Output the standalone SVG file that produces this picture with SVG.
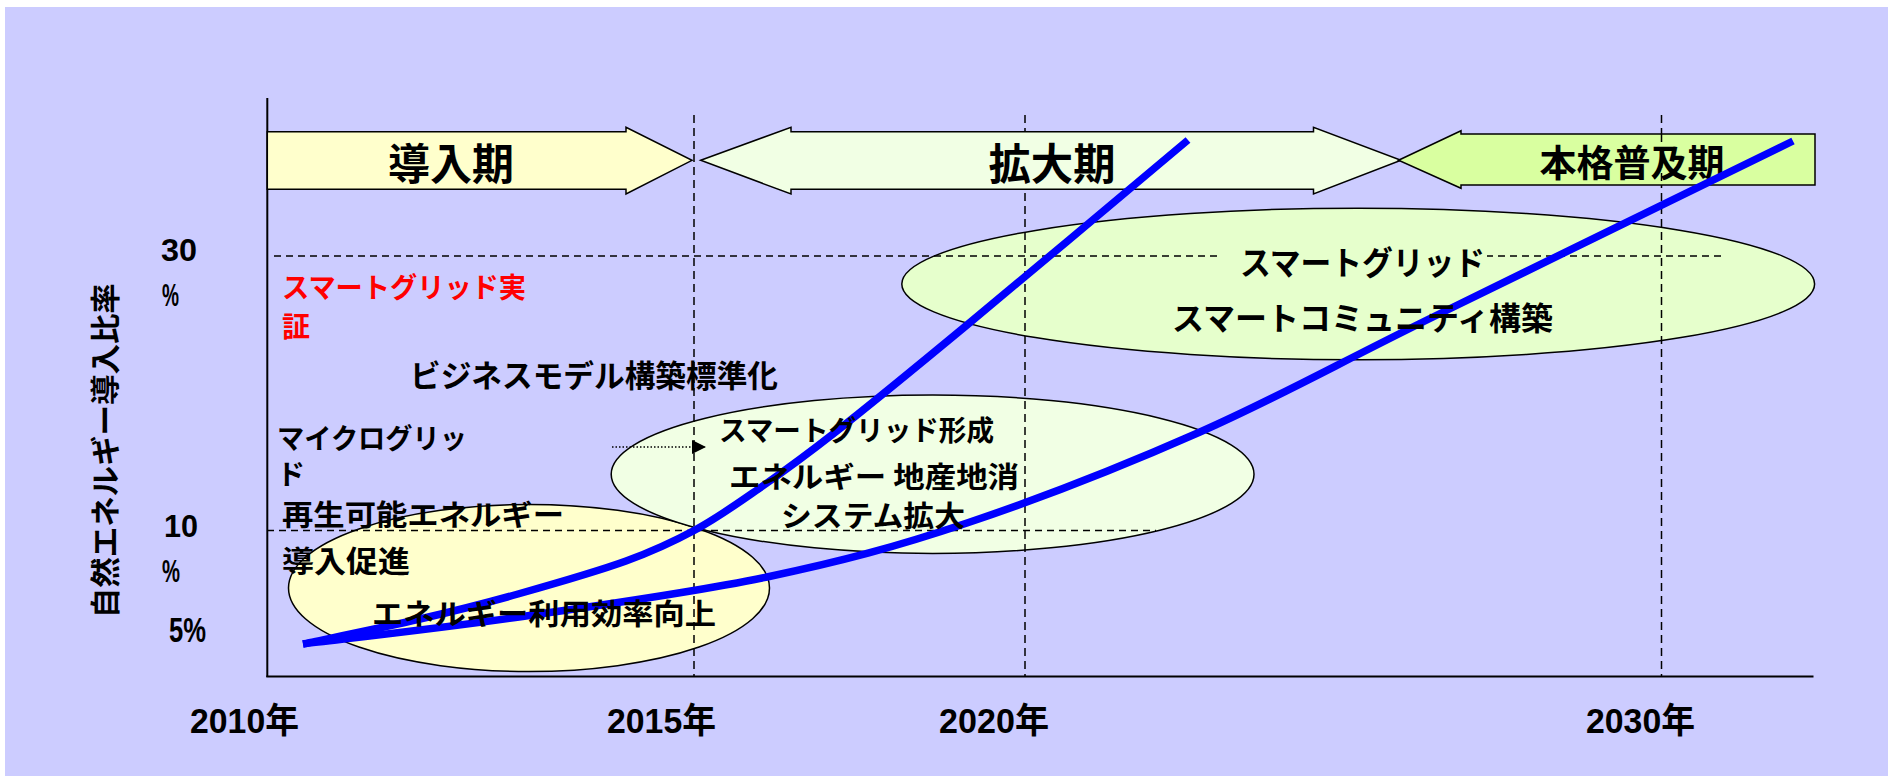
<svg xmlns="http://www.w3.org/2000/svg" width="1888" height="776" viewBox="0 0 1888 776">
<style>
.jp{font-family:"Noto Sans CJK JP","Noto Sans CJK SC",sans-serif;font-weight:bold;fill:#000}
.num{font-family:"Liberation Sans","Noto Sans CJK JP",sans-serif;font-weight:bold;fill:#000}
.dash{stroke:#000;stroke-width:1.5;stroke-dasharray:8 5;fill:none}
.hdash{stroke:#000;stroke-width:1.5;stroke-dasharray:7 5;fill:none}
.curve{fill:none;stroke:#0000FF;stroke-width:7.5;stroke-linejoin:round}
.shape{stroke:#000;stroke-width:1.5}
.axis{stroke:#000;stroke-width:2;fill:none}
</style>
<defs>
<marker id="tri" viewBox="0 0 10 10" refX="10" refY="5" markerWidth="14" markerHeight="14" markerUnits="userSpaceOnUse" orient="auto">
<path d="M0,0 L10,5 L0,10 Z" fill="#000"/>
</marker>
</defs>
<rect x="0" y="0" width="1888" height="776" fill="#FFFFFF"/>
<rect x="5" y="7" width="1883" height="769" fill="#CCCCFF"/>

<g id="ellipse-intro">
<ellipse class="shape" cx="529" cy="588" rx="240.5" ry="83.5" fill="#FFFFCC"/>
</g>
<g id="ellipse-expand">
<ellipse class="shape" cx="932.6" cy="474.2" rx="321.4" ry="79.2" fill="#F1FFE4"/>
</g>
<g id="ellipse-spread">
<ellipse class="shape" cx="1358.2" cy="284" rx="456.4" ry="75.8" fill="#E6FFCC"/>
</g>

<g id="gridlines">
<line class="dash" x1="694" y1="115" x2="694" y2="676"/>
<line class="dash" x1="1025" y1="115" x2="1025" y2="676"/>
<line class="dash" x1="1661.5" y1="115" x2="1661.5" y2="676"/>
<line class="hdash" x1="274" y1="256" x2="1724" y2="256"/>
<line class="hdash" x1="267" y1="530.5" x2="1156" y2="530.5"/>
<rect x="1218" y="240" width="269" height="40" fill="#E6FFCC"/>
</g>

<g id="axes">
<line class="axis" x1="267.3" y1="98" x2="267.3" y2="677"/>
<line class="axis" x1="266.3" y1="676.5" x2="1813.5" y2="676.5"/>
</g>

<g id="phase-intro">
<polygon class="shape" fill="#FFFFCC" points="267.3,131.7 626,131.7 626,127.3 692,160.3 626,194 626,189.3 267.3,189.3"/>
<text class="jp" x="451" y="180" font-size="43" text-anchor="middle" textLength="126" lengthAdjust="spacingAndGlyphs">導入期</text>
</g>
<g id="phase-expand">
<polygon class="shape" fill="#F1FFE4" points="700.7,160.3 791,127.3 791,131.7 1313.5,131.7 1313.5,127.3 1401,160.3 1313.5,194 1313.5,189.3 791,189.3 791,194"/>
<text class="jp" x="1052" y="180" font-size="43" text-anchor="middle" textLength="127" lengthAdjust="spacingAndGlyphs">拡大期</text>
</g>
<g id="phase-spread">
<polygon class="shape" fill="#D9FFA0" points="1398.5,160.3 1461,130.7 1461,134 1815,134 1815,185 1461,185 1461,188.3"/>
<text class="jp" x="1632" y="177" font-size="37" text-anchor="middle" textLength="185" lengthAdjust="spacingAndGlyphs">本格普及期</text>
</g>
<line class="dash" x1="1661.5" y1="134" x2="1661.5" y2="185"/>

<g id="curves">
<path class="curve" d="M303,644 C322.5,639.8 384.2,627.3 420,619 C455.8,610.7 483.7,603.7 518,594 C552.3,584.3 596.5,571.7 626,561 C655.5,550.3 673.2,541.8 695,530 C716.8,518.2 734,506 757,490 C780,474 798,461.5 833,434 C868,406.5 907.8,374 967,325 C1026.2,276 1151.2,170.8 1188,140"/>
<path class="curve" d="M303,644 C339,639.5 441.7,628.2 519,617 C596.3,605.8 692.3,592.7 767,577 C841.7,561.3 894.8,547.2 967,523 C1039.2,498.8 1122.3,466.3 1200,432 C1277.7,397.7 1334.2,365.5 1433,317 C1531.8,268.5 1733,170.3 1793,141"/>
</g>

<g id="connectors">
<line x1="612" y1="447" x2="706" y2="447" stroke="#000" stroke-width="1.5" stroke-dasharray="1.5 2" marker-end="url(#tri)"/>
</g>

<g id="y-axis-label">
<text class="jp" font-size="30" text-anchor="middle" transform="translate(116,450.7) rotate(-90)" textLength="335" lengthAdjust="spacingAndGlyphs">自然エネルギー導入比率</text>
</g>
<g id="y-ticks">
<text class="num" x="161" y="260.5" font-size="31" textLength="36" lengthAdjust="spacingAndGlyphs">30</text>
<text class="num" x="162" y="306" font-size="31" textLength="17" lengthAdjust="spacingAndGlyphs">%</text>
<text class="num" x="164" y="536.5" font-size="32" textLength="34" lengthAdjust="spacingAndGlyphs">10</text>
<text class="num" x="162" y="581.5" font-size="31" textLength="18" lengthAdjust="spacingAndGlyphs">%</text>
<text class="num" x="169" y="641.5" font-size="35" textLength="37" lengthAdjust="spacingAndGlyphs">5%</text>
</g>
<g id="x-ticks">
<text class="num" x="190" y="733.3" font-size="35" textLength="109" lengthAdjust="spacingAndGlyphs">2010年</text>
<text class="num" x="607" y="733.3" font-size="35" textLength="109" lengthAdjust="spacingAndGlyphs">2015年</text>
<text class="num" x="939" y="733.3" font-size="35" textLength="110" lengthAdjust="spacingAndGlyphs">2020年</text>
<text class="num" x="1586" y="733.3" font-size="35" textLength="109" lengthAdjust="spacingAndGlyphs">2030年</text>
</g>

<g id="label-smartgrid-demo">
<text class="jp" x="282" y="298" font-size="28" style="fill:#FF0000" textLength="244" lengthAdjust="spacingAndGlyphs">スマートグリッド実</text>
<text class="jp" x="282" y="336.5" font-size="28" style="fill:#FF0000">証</text>
</g>
<g id="label-business">
<text class="jp" x="410" y="386.5" font-size="31" textLength="368" lengthAdjust="spacingAndGlyphs">ビジネスモデル構築標準化</text>
</g>
<g id="label-microgrid">
<text class="jp" x="277" y="448.5" font-size="28" textLength="190" lengthAdjust="spacingAndGlyphs">マイクログリッ</text>
<text class="jp" x="277" y="485" font-size="28">ド</text>
</g>
<g id="label-intro">
<text class="jp" x="282" y="525.5" font-size="29" textLength="282" lengthAdjust="spacingAndGlyphs">再生可能エネルギー</text>
<text class="jp" x="282" y="572" font-size="30" textLength="128" lengthAdjust="spacingAndGlyphs">導入促進</text>
<text class="jp" x="372" y="625" font-size="29" textLength="344" lengthAdjust="spacingAndGlyphs">エネルギー利用効率向上</text>
</g>
<g id="label-expand">
<text class="jp" x="719" y="441" font-size="28" textLength="275" lengthAdjust="spacingAndGlyphs">スマートグリッド形成</text>
<text class="jp" x="729" y="487.5" font-size="29" textLength="290" lengthAdjust="spacingAndGlyphs">エネルギー 地産地消</text>
<text class="jp" x="781" y="526.5" font-size="29" textLength="184" lengthAdjust="spacingAndGlyphs">システム拡大</text>
</g>
<g id="label-spread">
<text class="jp" x="1240" y="275" font-size="33" textLength="245" lengthAdjust="spacingAndGlyphs">スマートグリッド</text>
<text class="jp" x="1172" y="330" font-size="32" textLength="381" lengthAdjust="spacingAndGlyphs">スマートコミュニティ構築</text>
</g>
</svg>
